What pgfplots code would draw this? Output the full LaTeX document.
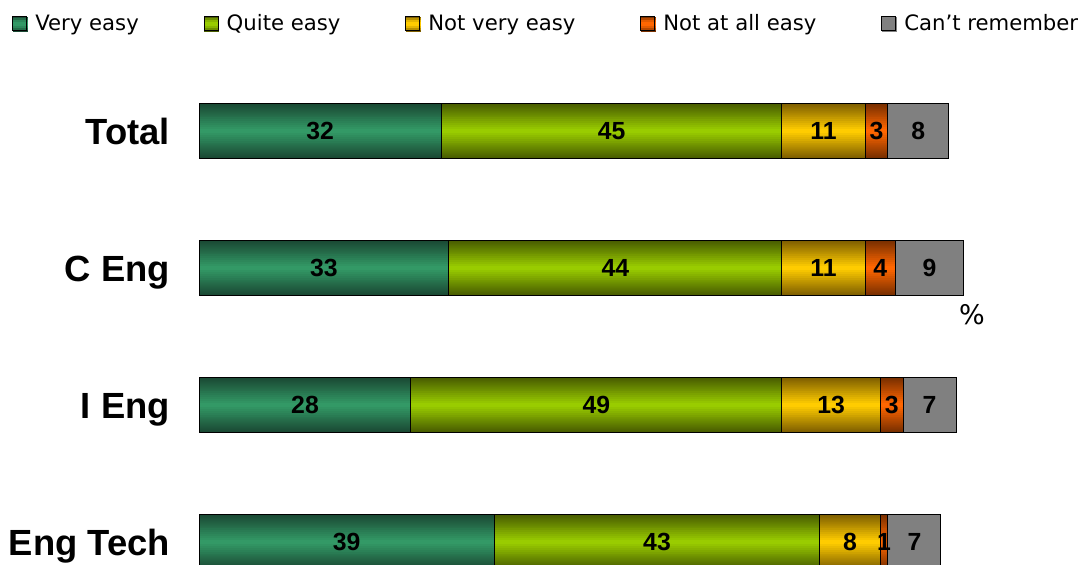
\documentclass[border=0pt]{standalone}
\usepackage{pgfplots}
\pgfplotsset{compat=1.18}
\usepackage{pgfplotstable}
\usepackage{fontspec}
\setmainfont{DejaVu Sans}
\newfontfamily\arialfont{Liberation Sans}
\definecolor{gmid}{HTML}{339966}
\definecolor{gdark}{HTML}{1A4A34}
\definecolor{lmid}{HTML}{99CC00}
\definecolor{ldark}{HTML}{4A5E00}
\definecolor{ymid}{HTML}{FFCC00}
\definecolor{ydark}{HTML}{806000}
\definecolor{omid}{HTML}{FF6600}
\definecolor{odark}{HTML}{7A3000}
\definecolor{greyc}{HTML}{808080}
\pgfplotsset{
  base/.style={scale only axis, width=543.5pt, height=282.5pt,
    xmin=-26.29, xmax=117.3, ymin=-0.956, ymax=3.168, y dir=reverse, hide axis},
}
\newcommand\legsq[2]{%
  \fill[#2] (0pt,-3.5pt) rectangle (7pt,3.5pt);
  \fill[#1!45!#2] (0pt,-2.6pt) rectangle (7pt,2.6pt);
  \fill[#1!80!#2] (0pt,-1.7pt) rectangle (7pt,1.7pt);
  \fill[#1] (0pt,-0.9pt) rectangle (7pt,0.9pt);
  \draw[black, line width=0.5pt] (0pt,-3.5pt) rectangle (7pt,3.5pt);
  \path (9pt,0pt);}
\pgfplotstableread{
y  veasy qeasy nveasy naeasy cantr
0  32    45    11     3      8
1  33    44    11     4      9
2  28    49    13     3      7
3  39    43    8      1      7
}\datatable
\begin{document}
\begin{tikzpicture}
% layered bars give the vertical gradient (dark edges, bright centre)
\foreach \k in {0,...,13}{
  \pgfmathsetmacro\w{27.5*(1-\k/14)}
  \pgfmathsetmacro\f{100*\k/13}
  \begin{axis}[base, xbar stacked, bar width=\w pt]
  \addplot[draw=none, fill=gmid!\f!gdark] table[x=veasy, y=y] {\datatable};
  \addplot[draw=none, fill=lmid!\f!ldark] table[x=qeasy, y=y] {\datatable};
  \addplot[draw=none, fill=ymid!\f!ydark] table[x=nveasy, y=y] {\datatable};
  \addplot[draw=none, fill=omid!\f!odark] table[x=naeasy, y=y] {\datatable};
  \addplot[draw=none, fill=greyc] table[x=cantr, y=y] {\datatable};
  \end{axis}
}
% outlines
\begin{axis}[base, xbar stacked, bar width=27.5pt]
  \addplot[draw=black, line width=0.5pt, fill=none] table[x=veasy, y=y] {\datatable};
  \addplot[draw=black, line width=0.5pt, fill=none] table[x=qeasy, y=y] {\datatable};
  \addplot[draw=black, line width=0.5pt, fill=none] table[x=nveasy, y=y] {\datatable};
  \addplot[draw=black, line width=0.5pt, fill=none] table[x=naeasy, y=y] {\datatable};
  \addplot[draw=black, line width=0.5pt, fill=none] table[x=cantr, y=y] {\datatable};
\end{axis}
\begin{axis}[base, name=A,
  legend columns=5,
  legend style={at={(axis cs:-24.65,-0.781)}, anchor=west, draw=none, fill=none,
    inner sep=0pt, outer sep=0pt, font=\fontsize{10.6}{12}\selectfont,
    /tikz/every even column/.append style={column sep=30.5pt}},
  legend cell align=left,
]
\addlegendimage{legend image code/.code={\legsq{gmid}{gdark}}}
\addlegendentry{Very easy}
\addlegendimage{legend image code/.code={\legsq{lmid}{ldark}}}
\addlegendentry{Quite easy}
\addlegendimage{legend image code/.code={\legsq{ymid}{ydark}}}
\addlegendentry{Not very easy}
\addlegendimage{legend image code/.code={\legsq{omid}{odark}}}
\addlegendentry{Not at all easy}
\addlegendimage{legend image code/.code={\legsq{greyc}{greyc}}}
\addlegendentry{Can't remember}
% value labels at segment centres
\addplot[draw=none, mark=none, nodes near coords, point meta=explicit symbolic,
  every node near coord/.style={anchor=center, inner sep=0pt, font=\arialfont\bfseries\fontsize{12.4}{14}\selectfont}]
  coordinates {
  (16,0)[32] (54.5,0)[45] (82.5,0)[11] (89.5,0)[3] (95,0)[8]
  (16.5,1)[33] (55,1)[44] (82.5,1)[11] (90,1)[4] (96.5,1)[9]
  (14,2)[28] (52.5,2)[49] (83.5,2)[13] (91.5,2)[3] (96.5,2)[7]
  (19.5,3)[39] (60.5,3)[43] (86,3)[8] (90.5,3)[1] (94.5,3)[7]
  };
% category labels
\addplot[draw=none, mark=none, nodes near coords, point meta=explicit symbolic,
  every node near coord/.style={anchor=base east, inner sep=0pt, font=\arialfont\bfseries\fontsize{18.2}{20}\selectfont}]
  coordinates {(-3.8,0.102)[Total] (-3.8,1.102)[C Eng] (-3.8,2.102)[I Eng] (-3.8,3.102)[Eng Tech]};
% percent sign
\addplot[draw=none, mark=none, nodes near coords, point meta=explicit symbolic,
  every node near coord/.style={anchor=center, inner sep=0pt, font=\fontsize{13.5}{15}\selectfont}]
  coordinates {(102.1,1.34)[\%]};
\end{axis}
\pgfresetboundingbox
\path[use as bounding box] (A.south west) rectangle (A.north east);
\end{tikzpicture}
\end{document}
